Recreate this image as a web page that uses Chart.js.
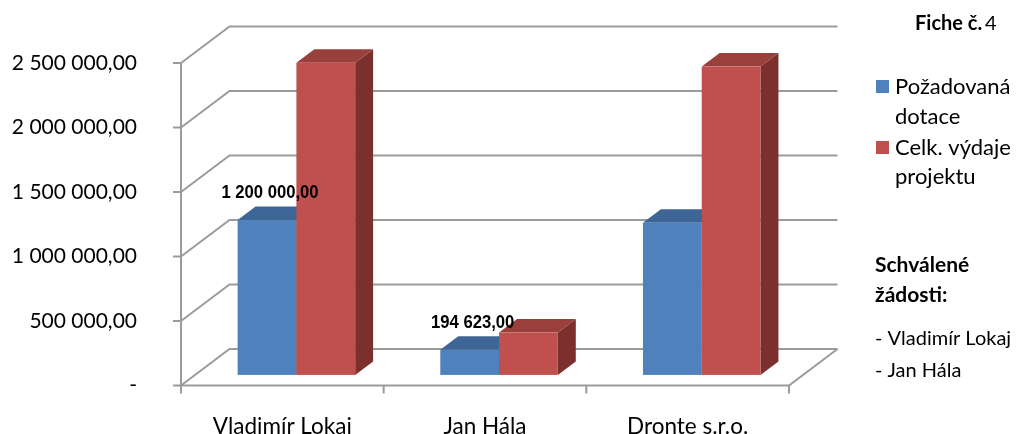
<!DOCTYPE html>
<html>
<head>
<meta charset="utf-8">
<script src="https://cdn.jsdelivr.net/npm/chart.js@4.4.1/dist/chart.umd.min.js"></script>
<style>
  html, body { margin: 0; padding: 0; background: #fff; }
  #wrap { width: 1016px; height: 434px; position: relative; }
</style>
</head>
<body>
<div id="wrap"><canvas id="chart"></canvas></div>
<script>
// Data
const categories = ['Vladimír Lokaj', 'Jan Hála', 'Dronte s.r.o.'];
const requested = [1200000, 194623, 1180000];
const totalCosts = [2420000, 328000, 2390000];
const seriesNames = [['Požadovaná', 'dotace'], ['Celk. výdaje', 'projektu']];
const yTicks = [0, 500000, 1000000, 1500000, 2000000, 2500000];
const approved = ['Vladimír Lokaj', 'Jan Hála'];
const titleBold = 'Fiche č.';
const titleNum = '4';
const approvedTitle = ['Schválené', 'žádosti:'];

const FONT = 'Lato';
const GRID = '#9b9b9b';
const DEPTH = { x: 48.5, y: -36.5 };   // floor depth vector
const BAR_FRONT = 0.29, BAR_BACK = 0.66; // bar placement inside the depth

const colors = [
    { front: '#4f81bd', top: '#3d6696', side: '#34567f' },
    { front: '#c0504d', top: '#993f3c', side: '#7b302e' }
];

// "2 500 000,00" style, zero shown as "-"
function fmt(v) {
    if (v === 0) return '-';
    const parts = v.toFixed(2).split('.');
    return parts[0].replace(/\B(?=(\d{3})+(?!\d))/g, ' ') + ',' + parts[1];
}

// 3D walls, bars and data labels
const box3d = {
    id: 'box3d',
    beforeDatasetsDraw(chart) {
        const { ctx, chartArea: a, scales } = chart;
        const y = scales.y;
        ctx.save();
        ctx.strokeStyle = GRID;
        ctx.lineWidth = 2;
        ctx.lineCap = 'butt';

        // back wall lines + diagonals to front axis
        yTicks.forEach(t => {
            const py = y.getPixelForValue(t);
            ctx.beginPath();
            ctx.moveTo(a.left, py);
            ctx.lineTo(a.left + DEPTH.x, py + DEPTH.y);
            ctx.lineTo(a.right + DEPTH.x, py + DEPTH.y);
            ctx.stroke();
            // tick mark
            ctx.beginPath();
            ctx.moveTo(a.left - 8, py);
            ctx.lineTo(a.left, py);
            ctx.stroke();
        });
        // front axis + floor
        const base = y.getPixelForValue(0);
        ctx.beginPath();
        ctx.moveTo(a.left, y.getPixelForValue(yTicks[yTicks.length - 1]));
        ctx.lineTo(a.left, base);
        ctx.lineTo(a.right, base);
        ctx.lineTo(a.right + DEPTH.x, base + DEPTH.y);
        ctx.stroke();
        // category ticks
        for (let i = 0; i <= categories.length; i++) {
            const px = a.left + (a.right - a.left) * i / categories.length;
            ctx.beginPath();
            ctx.moveTo(px, base);
            ctx.lineTo(px, base + 8);
            ctx.stroke();
        }

        // bars
        const fx = DEPTH.x * BAR_FRONT, fy = DEPTH.y * BAR_FRONT;
        const bx = DEPTH.x * BAR_BACK, by = DEPTH.y * BAR_BACK;
        categories.forEach((c, i) => {
            chart.data.datasets.forEach((ds, d) => {
                const el = chart.getDatasetMeta(d).data[i];
                const x0 = el.x - el.width / 2, x1 = el.x + el.width / 2;
                const top = el.y, bot = el.base;
                const col = colors[d];
                // right side
                ctx.fillStyle = col.side;
                ctx.beginPath();
                ctx.moveTo(x1 + fx, top + fy);
                ctx.lineTo(x1 + bx, top + by);
                ctx.lineTo(x1 + bx, bot + by);
                ctx.lineTo(x1 + fx, bot + fy);
                ctx.closePath();
                ctx.fill();
                // top
                ctx.fillStyle = col.top;
                ctx.beginPath();
                ctx.moveTo(x0 + fx, top + fy);
                ctx.lineTo(x1 + fx, top + fy);
                ctx.lineTo(x1 + bx, top + by);
                ctx.lineTo(x0 + bx, top + by);
                ctx.closePath();
                ctx.fill();
                // front
                ctx.fillStyle = col.front;
                ctx.fillRect(x0 + fx, top + fy, x1 - x0, bot - top);
            });
        });

        // data labels on approved requests
        const meta = chart.getDatasetMeta(0);
        ctx.fillStyle = '#000';
        ctx.font = 'bold 18.5px "Liberation Sans"';
        ctx.textAlign = 'center';
        ctx.textBaseline = 'middle';
        categories.forEach((c, i) => {
            if (!approved.includes(c)) return;
            const el = meta.data[i];
            ctx.save();
            ctx.translate(el.x + fx + 3, el.y + fy - 27);
            ctx.scale(0.9, 1);
            ctx.fillText(fmt(requested[i]), 0, 0);
            ctx.restore();
        });
        ctx.restore();
        return false;
    },
    afterDraw(chart) {
        const ctx = chart.ctx;
        ctx.save();
        ctx.fillStyle = '#000';
        ctx.textBaseline = 'alphabetic';
        ctx.textAlign = 'left';

        // title
        ctx.font = 'bold 20px ' + FONT;
        ctx.fillText(titleBold, 915, 30);
        const w = ctx.measureText(titleBold + ' ').width;
        ctx.font = '20px ' + FONT;
        ctx.fillText(titleNum, 915 + w - 2, 30);

        // legend
        ctx.font = '22px ' + FONT;
        const rows = [[80, 94, 124], [141, 155, 184]];
        seriesNames.forEach((lines, d) => {
            ctx.fillStyle = colors[d].front;
            ctx.fillRect(876, rows[d][0], 13, 13);
            ctx.fillStyle = '#000';
            ctx.fillText(lines[0], 895, rows[d][1]);
            ctx.fillText(lines[1], 895, rows[d][2]);
        });

        // approved list
        ctx.font = 'bold 21px ' + FONT;
        ctx.fillText(approvedTitle[0], 875, 272);
        ctx.fillText(approvedTitle[1], 875, 302);
        ctx.font = '20px ' + FONT;
        approved.forEach((name, i) => {
            ctx.fillText('- ' + name, 875, 345 + i * 32);
        });
        ctx.restore();
    }
};

const ctx = document.getElementById('chart').getContext('2d');
const chart = new Chart(ctx, {
    type: 'bar',
    data: {
        labels: categories,
        datasets: [{
            label: seriesNames[0].join(' '),
            data: requested,
            backgroundColor: colors[0].front
        }, {
            label: seriesNames[1].join(' '),
            data: totalCosts,
            backgroundColor: colors[1].front
        }]
    },
    options: {
        responsive: true,
        maintainAspectRatio: false,
        animation: false,
        layout: { padding: { left: 0, top: 63, right: 227, bottom: 0 } },
        categoryPercentage: 0.58,
        barPercentage: 1,
        plugins: {
            legend: { display: false },
            tooltip: { enabled: false }
        },
        scales: {
            x: {
                grid: { display: false, drawTicks: false, tickLength: 0 },
                border: { display: false },
                ticks: {
                    color: '#000',
                    padding: 28,
                    autoSkip: false,
                    maxRotation: 0,
                    font: { family: FONT, size: 22.5 }
                },
                afterFit(scale) {
                    scale.height = 48.5;
                    scale.paddingLeft = 0;
                    scale.paddingRight = 0;
                }
            },
            y: {
                min: 0,
                max: yTicks[yTicks.length - 1],
                grid: { display: false, drawTicks: false, tickLength: 0 },
                border: { display: false },
                afterBuildTicks(scale) { scale.ticks = yTicks.map(v => ({ value: v })); },
                ticks: {
                    color: '#000',
                    padding: 44,
                    font: { family: FONT, size: 21 },
                    callback: v => fmt(v)
                },
                afterFit(scale) {
                    scale.width = 181;
                    scale.paddingTop = 0;
                    scale.paddingBottom = 0;
                }
            }
        }
    },
    plugins: [box3d]
});
</script>
</body>
</html>
